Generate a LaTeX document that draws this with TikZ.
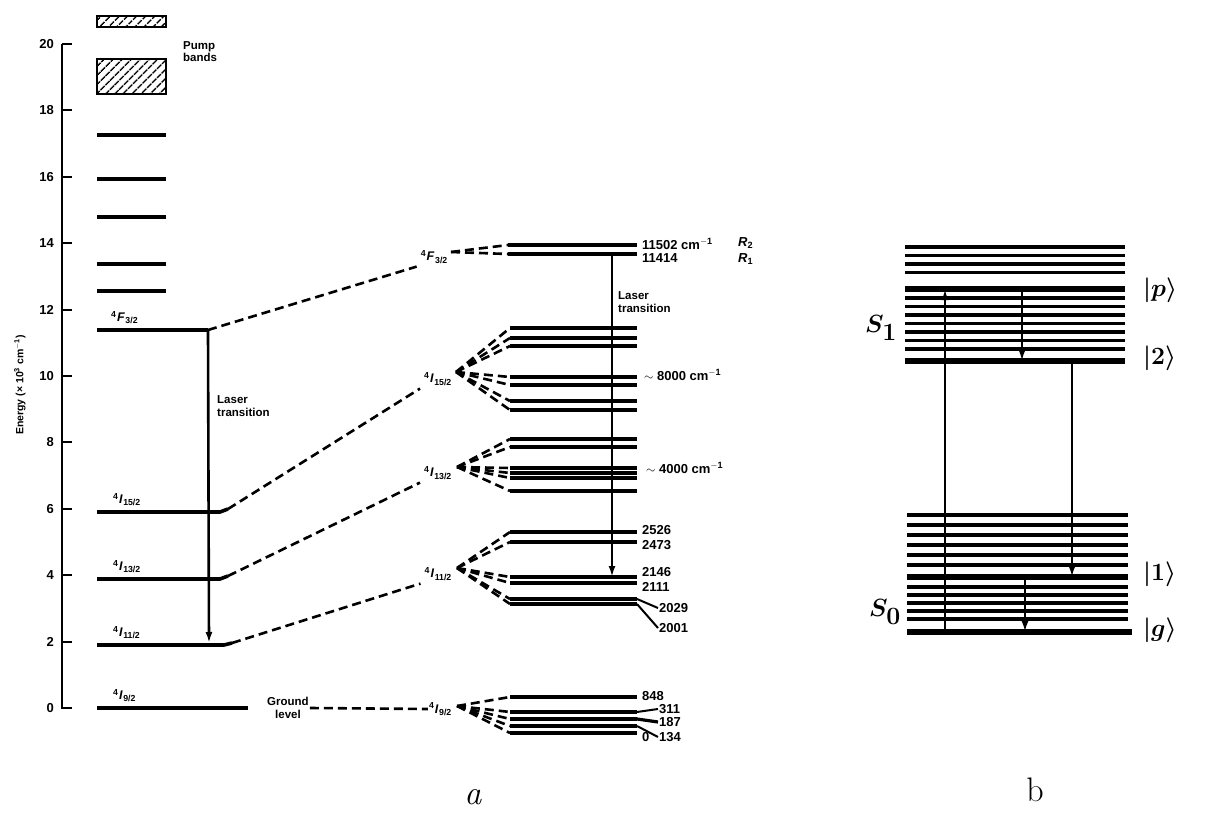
\documentclass[tikz,border=0pt]{standalone}
\usepackage{fontspec}
\setsansfont{Liberation Sans}
\usetikzlibrary{arrows.meta, positioning, patterns.meta, calc}
\newcommand{\lterm}[2]{\textsuperscript{4}\kern0.5pt\textit{#1}\kern0.5pt\textsubscript{#2}}
\tikzset{
  lvl/.style={line width=3.6pt},
  sublvl/.style={line width=3.2pt},
  pumpband/.style={line width=2.4pt, pattern={Lines[angle=45,distance=6.5pt,line width=1.6pt]}},
  split/.style={line width=2.6pt, dash pattern=on 9pt off 5pt},
  leader/.style={line width=2pt},
  trans/.style={line width=2.6pt, -{Latex[length=11pt,width=7pt]}},
  axtick/.style={line width=2pt},
  txt/.style={font=\sffamily\bfseries\fontsize{11.5}{12.5}\selectfont, inner sep=1pt, align=left},
  num/.style={font=\sffamily\bfseries\fontsize{13}{14}\selectfont, inner sep=1pt},
  term/.style={font=\sffamily\bfseries\fontsize{12.5}{13}\selectfont, inner sep=1pt},
  mol/.style={line width=3.6pt},
  molmain/.style={line width=5.2pt},
  hand/.style={font=\fontsize{34}{36}\selectfont\boldmath, inner sep=1pt},
}

\begin{document}
\begin{tikzpicture}[x=1pt, y=-1pt]
  \useasboundingbox (0,0) rectangle (1205,813);

  % energy axis
  \draw[axtick] (62,44) -- (62,708) -- (72,708);
  \foreach \e in {2,4,...,20}
    \draw[axtick] (62,{708-33.2*\e}) -- (72,{708-33.2*\e});
  \foreach \e in {0,2,...,20}
    \node[num, anchor=east] (tk\e) at (55,{708-33.2*\e}) {\e};
  \node[txt, font=\sffamily\bfseries\fontsize{10.5}{11}\selectfont, rotate=90] (elab) at (20,385)
    {Energy (× 10\textsuperscript{3} cm\textsuperscript{$-$1})};

  % pump bands and upper levels
  \draw[pumpband] (97,16) rectangle (166,27);
  \draw[pumpband] (97,59) rectangle (166,94);
  \node[txt, anchor=north west] (pump) at (182,40) {Pump\\bands};
  \foreach \y in {135,179,217,264,291}
    \draw[lvl] (97,\y) -- (166,\y);

  % left column, main levels
  \coordinate (f32a) at (208,330);
  \coordinate (i15a) at (228,509);
  \coordinate (i13a) at (228,576);
  \coordinate (i11a) at (232,643);
  \coordinate (i9a) at (248,708);
  \draw[lvl] (97,330) -- (f32a);
  \draw[lvl] (97,512) -- (220,512) -- (i15a);
  \draw[lvl] (97,579) -- (220,579) -- (i13a);
  \draw[lvl] (97,645) -- (224,645) -- (i11a);
  \draw[lvl] (97,708) -- (i9a);
  \node[term, anchor=south west] (tf32a) at (110,325) {\lterm{F}{3/2}};
  \node[term, anchor=south west] (ti15a) at (112,507) {\lterm{I}{15/2}};
  \node[term, anchor=south west] (ti13a) at (112,574) {\lterm{I}{13/2}};
  \node[term, anchor=south west] (ti11a) at (112,640) {\lterm{I}{11/2}};
  \node[term, anchor=south west] (ti9a) at (112,703) {\lterm{I}{9/2}};
  \node[txt, align=center] (ground) at (288,708) {Ground\\level};

  % laser transition, left
  \coordinate (lasa) at (209,643);
  \draw[trans] (f32a) -- (lasa);
  \node[txt, anchor=west] (llasa) at (216,406) {Laser\\transition};

  % right column, Stark split levels
  \node[term, anchor=east] (tf32b) at (449,257) {\lterm{F}{3/2}};
  \node[term, anchor=east] (ti15b) at (453,379) {\lterm{I}{15/2}};
  \node[term, anchor=east] (ti13b) at (453,473) {\lterm{I}{13/2}};
  \node[term, anchor=east] (ti11b) at (453,574) {\lterm{I}{11/2}};
  \node[term, anchor=east] (ti9b) at (453,709) {\lterm{I}{9/2}};

  \draw[split] (f32a) -- ([xshift=-3pt,yshift=-2pt]tf32b.south west);
  \draw[split] (i15a) -- ([xshift=-3pt,yshift=-2pt]ti15b.south west);
  \draw[split] (i13a) -- ([xshift=-3pt,yshift=-2pt]ti13b.south west);
  \draw[split] (i11a) -- ([xshift=-3pt,yshift=-2pt]ti11b.south west);
  \draw[split] (ground.east) -- (ti9b.west);

  \coordinate (of32) at (451,252);
  \coordinate (oi15) at (456,372);
  \coordinate (oi13) at (457,467);
  \coordinate (oi11) at (457,568);
  \coordinate (oi9) at (457,706);

  \foreach \y [count=\i] in {245,254}{
    \coordinate (sf\i) at (508,\y); \coordinate (ef\i) at (637,\y);
    \draw[split] (of32) -- (sf\i); \draw[sublvl] (sf\i) -- (ef\i);}
  \foreach \y [count=\i] in {328,338,346,377,385,401,410}{
    \coordinate (sa\i) at (510,\y); \coordinate (ea\i) at (637,\y);
    \draw[split] (oi15) -- (sa\i); \draw[sublvl] (sa\i) -- (ea\i);}
  \foreach \y [count=\i] in {439,447,468,473,478,491}{
    \coordinate (sb\i) at (510,\y); \coordinate (eb\i) at (637,\y);
    \draw[split] (oi13) -- (sb\i); \draw[sublvl] (sb\i) -- (eb\i);}
  \foreach \y [count=\i] in {532,542,577,583,599,604}{
    \coordinate (sc\i) at (510,\y); \coordinate (ec\i) at (637,\y);
    \draw[split] (oi11) -- (sc\i); \draw[sublvl] (sc\i) -- (ec\i);}
  \foreach \y [count=\i] in {697,712,719,726,733}{
    \coordinate (sd\i) at (510,\y); \coordinate (ed\i) at (637,\y);
    \draw[split] (oi9) -- (sd\i); \draw[sublvl] (sd\i) -- (ed\i);}

  % level values
  \node[num, anchor=west] (v11502) at (641,244) {11502 cm\textsuperscript{$-$1}};
  \node[num, anchor=west] (v11414) at (641,258) {11414};
  \node[num, anchor=west] (vr2) at (737,243) {\textit{R}\textsubscript{2}};
  \node[num, anchor=west] (vr1) at (737,259) {\textit{R}\textsubscript{1}};
  \node[num, anchor=west] (v8000) at (643,375) {$\sim$ 8000 cm\textsuperscript{$-$1}};
  \node[num, anchor=west] (v4000) at (645,468) {$\sim$ 4000 cm\textsuperscript{$-$1}};
  \node[num, anchor=west] (v2526) at (641,530) {2526};
  \node[num, anchor=west] (v2473) at (641,545) {2473};
  \node[num, anchor=west] (v2146) at (641,572) {2146};
  \node[num, anchor=west] (v2111) at (641,587) {2111};
  \node[num, anchor=west] (v2029) at (658,608) {2029};
  \node[num, anchor=west] (v2001) at (658,628) {2001};
  \draw[leader] (ec5) -- (v2029.west);
  \draw[leader] (ec6) -- (v2001.west);
  \node[num, anchor=west] (v848) at (641,696) {848};
  \node[num, anchor=west] (v311) at (658,709) {311};
  \node[num, anchor=west] (v187) at (658,722) {187};
  \node[num, anchor=west] (v134) at (658,737) {134};
  \node[num, anchor=west] (v0) at (641,737) {0};
  \draw[leader] (ed2) -- (v311.west);
  \draw[sublvl] (ed3) -- (v187.west);
  \draw[leader] (ed4) -- (v134.west);

  % laser transition, right
  \coordinate (lasb0) at (612,254);
  \coordinate (lasb1) at (612,577);
  \draw[trans] (lasb0) -- (lasb1);
  \node[txt, anchor=west] (llasb) at (617,302) {Laser\\transition};

  % dye molecule scheme
  \foreach \y in {247,255.5,264,272.5,298,306.5,315,323.5,332,340.5,349}
    \draw[mol] (905,\y) -- (1125,\y);
  \draw[molmain] (905,289) coordinate (pl) -- (1125,289) coordinate (pr);
  \draw[molmain] (905,361) coordinate (tl) -- (1125,361) coordinate (tr);
  \foreach \y in {515,525,535,545,555,565,587,595,603,611,619}
    \draw[mol] (907,\y) -- (1128,\y);
  \draw[molmain] (907,577) coordinate (ol) -- (1128,577) coordinate (or);
  \draw[molmain] (907,632) coordinate (gl) -- (1132,632) coordinate (gr);

  \coordinate (up0) at (945,632);  \coordinate (up1) at (945,289);
  \coordinate (dn0) at (1022,289); \coordinate (dn1) at (1022,361);
  \coordinate (em0) at (1072,361); \coordinate (em1) at (1072,577);
  \coordinate (rl0) at (1025,577); \coordinate (rl1) at (1025,632);
  \draw[trans] (up0) -- (up1);
  \draw[trans] (dn0) -- (dn1);
  \draw[trans] (em0) -- (em1);
  \draw[trans] (rl0) -- (rl1);

  \node[hand, anchor=east] (s1) at (898,328) {$S_1$};
  \node[hand, anchor=east] (s0) at (902,612) {$S_0$};
  \node[hand, anchor=west] (kp) at (1142,290) {$|p\rangle$};
  \node[hand, anchor=west] (k2) at (1142,358) {$|2\rangle$};
  \node[hand, anchor=west] (k1) at (1142,574) {$|1\rangle$};
  \node[hand, anchor=west] (kg) at (1142,630) {$|g\rangle$};

  \node[hand] (cap a) at (473,797) {\textit{a}};
  \node[hand] (cap b) at (1035,790) {b};
\end{tikzpicture}
\end{document}
